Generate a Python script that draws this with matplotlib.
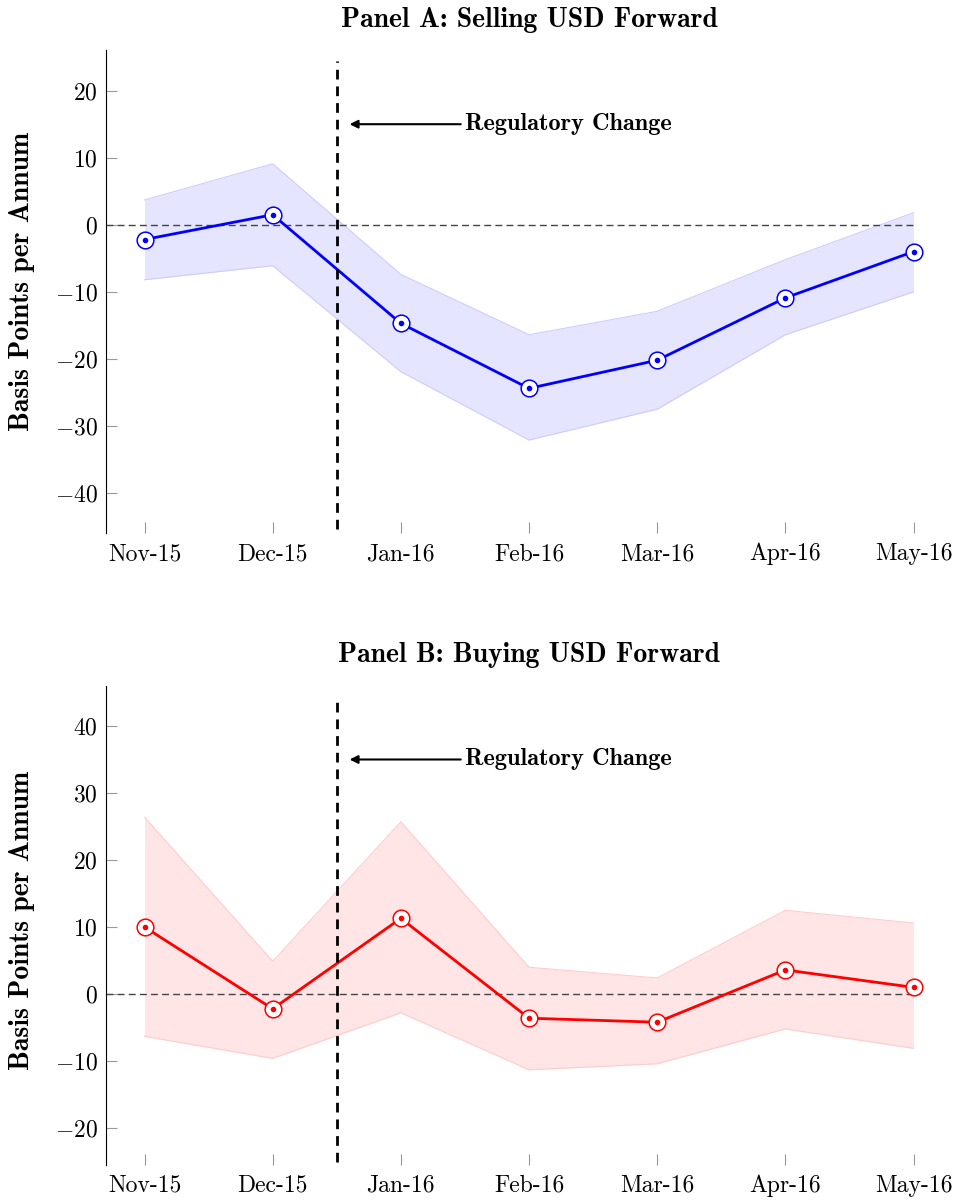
import matplotlib
matplotlib.use('Agg')
import matplotlib.pyplot as plt

plt.rcParams['font.family'] = 'cmr10'
plt.rcParams['mathtext.fontset'] = 'cm'
plt.rcParams['axes.formatter.use_mathtext'] = True

months = ['Nov-15', 'Dec-15', 'Jan-16', 'Feb-16', 'Mar-16', 'Apr-16', 'May-16']

# Panel A: selling USD forward
sell_est = [-2.2, 1.5, -14.7, -24.4, -20.2, -10.9, -4.0]
sell_hi = [3.7, 9.1, -7.4, -16.4, -12.9, -5.2, 1.8]
sell_lo = [-8.2, -6.1, -21.9, -32.1, -27.5, -16.4, -10.0]

# Panel B: buying USD forward
buy_est = [10.0, -2.2, 11.3, -3.6, -4.2, 3.6, 1.0]
buy_hi = [26.4, 4.9, 25.7, 4.0, 2.4, 12.5, 10.6]
buy_lo = [-6.3, -9.6, -2.8, -11.3, -10.4, -5.2, -8.1]

yticks_a = [-40, -30, -20, -10, 0, 10, 20]
yticks_b = [-20, -10, 0, 10, 20, 30, 40]

fig = plt.figure(figsize=(9.58, 12.01), dpi=100)
ax1 = fig.add_axes([0.1107, 0.556, 0.883, 0.402])
ax2 = fig.add_axes([0.1107, 0.030, 0.883, 0.399])


def draw_panel(ax, est, lo, hi, col, fillcol, edgecol, title, ylim, yticks, arrow_y, vline_rng, label_y):
    x = list(range(len(months)))
    ax.fill_between(x, lo, hi, color=fillcol, lw=0, zorder=1)
    ax.plot(x, hi, color=edgecol, lw=0.8, zorder=1.5)
    ax.plot(x, lo, color=edgecol, lw=0.8, zorder=1.5)
    ax.plot([-0.3, 6], [0, 0], color='#444444', lw=1.0, ls=(0, (5, 3)), zorder=2)
    ax.plot(x, est, color=col, lw=2, zorder=3)
    ax.plot(x, est, ls='none', marker='o', ms=12, mfc='white', mec=col, mew=1.1, zorder=4)
    ax.plot(x, est, ls='none', marker='o', ms=3, mfc=col, mec=col, zorder=5)
    ax.plot([1.5, 1.5], vline_rng, color='black', lw=2, ls=(0, (3.5, 2.5)), zorder=6)
    ax.annotate('Regulatory Change', xy=(1.6, arrow_y), xytext=(2.5, arrow_y),
                ha='left', va='center', fontsize=17.5, family='cmb10',
                arrowprops=dict(arrowstyle='-|>', color='black', lw=1.5,
                                shrinkA=1, shrinkB=0, mutation_scale=12))
    ax.set_xlim(-0.3, 6.3)
    ax.set_ylim(*ylim)
    ax.set_xticks(x)
    ax.set_xticklabels(months)
    ax.set_yticks(yticks)
    for s in ['top', 'right', 'bottom']:
        ax.spines[s].set_visible(False)
    ax.spines['left'].set_linewidth(0.8)
    ax.tick_params(axis='both', direction='in', length=8, width=0.8, color='#999999',
                   labelsize=17)
    ax.tick_params(axis='x', pad=7)
    ax.tick_params(axis='y', pad=6)
    ax.set_title(title, fontsize=20, family='cmb10', pad=17)
    ax.set_ylabel('Basis Points per Annum', fontsize=20, family='cmb10', labelpad=14,
                  y=label_y)


draw_panel(ax1, sell_est, sell_lo, sell_hi, 'blue', '#e5e5ff', '#ccccff',
           'Panel A: Selling USD Forward', (-46, 26), yticks_a, 15, (-45.3, 24.5), 0.522)
draw_panel(ax2, buy_est, buy_lo, buy_hi, 'red', '#ffe5e5', '#ffcccc',
           'Panel B: Buying USD Forward', (-25.5, 46), yticks_b, 35, (-25, 44.5), 0.511)

fig.savefig('out.png', dpi=100)
